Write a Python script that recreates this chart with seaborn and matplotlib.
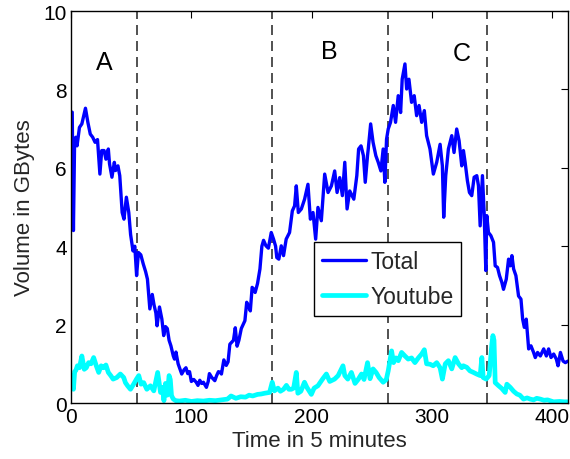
import matplotlib
matplotlib.use("Agg")
import matplotlib.pyplot as plt
import seaborn as sns
import pandas as pd

# ---- data ----
total_t = [1, 2, 3, 4, 5, 7, 9, 12, 14, 16, 18, 20, 22, 24, 25.5, 27.5, 29, 31, 32, 34,
           36, 37, 39, 40.5, 42.5, 44, 46, 48, 49.5, 51.5, 53, 54.5, 56, 58, 60, 62, 63.5,
           65.5, 67.5, 69, 70.5, 71.5, 73.5, 75.5, 77, 78.5, 80, 81.5, 83, 85, 86, 87.2, 89,
           90.5, 92, 94, 95.5, 97, 98.5, 100, 102, 104, 105.5, 107, 108.5, 110, 111.5, 112.5,
           114, 115, 117, 118, 119.5, 121, 122.5, 124, 125, 127, 129, 130.5, 132, 133.5, 135,
           136.5, 138, 139.5, 141.5, 143, 144.5, 146, 147, 149, 150.5, 152, 153, 155, 157,
           158.6, 160, 162, 164, 166.4, 168.3, 170, 171, 172.7, 174.7, 176.6, 178.8, 181.6,
           183.9, 185.8, 187.2, 188.9, 191.4, 194.1, 196.9, 198.9, 201.1, 203.3, 205.2, 208,
           210.8, 213.6, 216.4, 219.1, 221.1, 223.3, 225.5, 227.5, 229.4, 231.6, 235, 237.5,
           239, 241, 243, 244.5, 246.4, 247, 249, 251, 253.3, 255.3, 257.5, 259.4, 260.8,
           262.2, 263.6, 265.5, 267.8, 269.7, 271.9, 273.9, 275.2, 277.5, 278.9, 280.8, 283,
           285.2, 287.2, 289.2, 291.4, 293.6, 295.5, 298.3, 301.1, 303.9, 306.7, 308.6, 309.7,
           311.4, 313.6, 316.4, 318.3, 320.5, 322.5, 324.7, 326.1, 327.5, 329.4, 331.1, 333,
           335, 337.2, 338.6, 340, 341.9, 343.3, 344.7, 345.5, 346.9, 348.9, 351.1, 352.5,
           354.4, 356.1, 358, 359.4, 361.7, 363.6, 365, 366.4, 367.8, 369.7, 371.9, 373.9,
           375.3, 376.7, 378.3, 380.3, 382.2, 384.4, 385.8, 387.7, 390, 392.8, 395, 396.9,
           398.9, 401.1, 403.3, 404.7, 406.7, 408.9, 410.8, 413]
total_v = [7.42, 4.40, 6.73, 6.78, 6.56, 7.03, 7.12, 7.52, 7.16, 6.86, 6.78, 6.65, 6.72, 5.84,
           6.44, 6.44, 6.22, 6.48, 6.10, 5.76, 6.14, 5.93, 6.05, 5.80, 4.86, 4.69, 5.25, 4.86,
           4.30, 3.88, 4.00, 3.25, 3.84, 3.78, 3.55, 3.35, 3.16, 2.40, 2.77, 2.50, 2.30, 1.97,
           2.45, 2.14, 1.72, 1.95, 1.90, 1.60, 1.46, 1.20, 1.12, 1.30, 1.00, 0.87, 0.74, 0.85,
           0.90, 0.75, 0.80, 0.55, 0.60, 0.53, 0.45, 0.58, 0.50, 0.53, 0.45, 0.40, 0.55, 0.75,
           0.65, 0.62, 0.57, 0.70, 0.80, 0.78, 0.74, 1.10, 0.96, 1.05, 1.50, 1.55, 1.60, 1.92,
           1.45, 1.60, 1.90, 2.00, 2.10, 2.57, 2.50, 2.35, 2.95, 2.90, 2.82, 3.05, 3.42, 4.00,
           4.15, 4.01, 3.95, 4.35, 4.18, 4.00, 3.71, 3.67, 4.01, 3.76, 4.18, 4.35, 4.90, 5.03,
           5.54, 4.86, 4.95, 5.20, 5.58, 4.69, 4.86, 4.18, 4.99, 4.65, 5.84, 5.37, 5.54, 5.92,
           5.37, 5.75, 5.29, 6.14, 4.95, 5.41, 5.20, 5.80, 6.48, 6.56, 6.31, 5.63, 6.31, 6.48,
           7.12, 6.65, 6.31, 6.14, 5.92, 6.48, 5.63, 6.73, 6.99, 7.16, 7.59, 7.16, 7.84, 7.41,
           8.26, 8.65, 8.01, 8.26, 7.67, 7.84, 7.33, 7.59, 7.16, 7.46, 6.82, 6.48, 5.84, 6.14,
           6.60, 6.05, 4.74, 5.80, 6.48, 6.82, 6.39, 6.99, 6.69, 6.05, 6.44, 6.14, 5.67, 5.37,
           5.29, 5.76, 5.80, 5.54, 4.52, 5.80, 4.86, 3.38, 4.78, 4.35, 4.27, 4.10, 3.50, 3.46,
           3.25, 3.08, 2.90, 3.16, 3.67, 3.50, 3.76, 3.42, 3.25, 2.73, 2.65, 2.14, 1.93, 2.14,
           1.38, 1.46, 1.29, 1.16, 1.29, 1.20, 1.38, 1.20, 1.38, 1.16, 1.25, 1.12, 0.95, 1.29,
           1.07, 1.03, 1.07]

youtube_t = [1, 2, 3, 4, 5.3, 7, 9, 11, 12.7, 14.6, 16.6, 18.8, 21, 23, 25, 27, 29, 31, 33,
             35, 38, 41, 43.8, 45.2, 47, 49.4, 52, 54.4, 56.3, 58.2, 60.4, 63, 66, 68.8, 72,
             74.4, 76, 77.2, 78.5, 80, 81.5, 82.5, 83.5, 85, 87, 90, 95, 100, 105, 110, 115,
             120, 125, 130, 133, 137, 141, 145, 148, 151, 155, 158, 161, 165, 167.2, 169, 172,
             174, 176.6, 179, 181, 183, 185, 187.2, 188.5, 191, 194, 196, 199.7, 202, 205.2,
             209, 212.2, 215, 219, 222, 226, 227.5, 230, 233, 236, 238.6, 241.4, 243.5, 246.4,
             248.5, 251, 253.5, 256, 259.4, 262, 263.6, 266.4, 268, 270, 272, 274.7, 277.5,
             280.2, 283, 285.8, 288.6, 291.4, 293.6, 295.5, 298.3, 301, 303.9, 306.7, 308.6,
             311, 313.6, 316.4, 319.2, 322, 324.7, 326, 328.9, 331.5, 334.4, 337, 340, 341.4,
             342.5, 345, 347.5, 349.7, 350.6, 351.5, 352.5, 355.3, 358, 360.8, 362.2, 365,
             367.8, 370.5, 373, 376, 379, 381.6, 384.4, 387, 390, 393, 396, 401, 406, 410, 413]
youtube_v = [0.70, 0.35, 0.80, 0.83, 0.95, 0.90, 1.20, 0.86, 0.90, 1.03, 1.00, 1.16, 0.95, 0.78,
             0.95, 0.90, 0.97, 0.78, 0.70, 0.61, 0.65, 0.74, 0.65, 0.52, 0.44, 0.35, 0.48, 0.61,
             0.70, 0.48, 0.52, 0.35, 0.44, 0.31, 0.78, 0.27, 0.40, 0.06, 0.50, 0.20, 0.70, 0.60,
             0.19, 0.10, 0.06, 0.05, 0.07, 0.04, 0.06, 0.05, 0.07, 0.06, 0.08, 0.10, 0.18, 0.12,
             0.16, 0.15, 0.20, 0.18, 0.22, 0.23, 0.25, 0.27, 0.53, 0.31, 0.38, 0.30, 0.35, 0.45,
             0.35, 0.35, 0.38, 0.78, 0.25, 0.30, 0.53, 0.40, 0.22, 0.38, 0.44, 0.61, 0.74, 0.55,
             0.61, 0.70, 0.95, 0.70, 0.61, 0.78, 0.50, 0.60, 0.74, 0.60, 1.03, 0.62, 0.87, 0.78,
             0.65, 0.53, 0.60, 0.82, 1.33, 1.03, 1.15, 1.08, 1.29, 1.20, 1.12, 1.15, 1.03, 1.15,
             1.25, 1.36, 1.00, 0.99, 0.95, 1.03, 0.90, 0.61, 1.00, 1.08, 0.87, 1.16, 1.00, 0.90,
             0.95, 0.91, 0.82, 0.78, 0.74, 0.70, 1.16, 0.65, 0.61, 0.70, 1.50, 1.72, 1.60, 0.52,
             0.44, 0.37, 0.27, 0.48, 0.40, 0.30, 0.23, 0.20, 0.10, 0.13, 0.10, 0.08, 0.12, 0.10,
             0.07, 0.08, 0.03, 0.04, 0.03, 0.03]

boundaries = [55, 167, 263, 346]
region_labels = ["A", "B", "C"]
region_label_x = [28, 215, 325]
region_label_y = [8.7, 8.97, 8.93]
x_ticks = [0, 100, 200, 300, 400]
y_ticks = [0, 2, 4, 6, 8, 10]

# ---- styling ----
sns.set_theme(style="white")
plt.rcParams["font.family"] = ["Liberation Sans", "DejaVu Sans"]

fig = plt.figure(figsize=(5.7, 4.6), dpi=100)
ax = fig.add_axes([0.1246, 0.1217, 0.8719, 0.8522])

df_total = pd.DataFrame({"t": total_t, "v": total_v})
df_yt = pd.DataFrame({"t": youtube_t, "v": youtube_v})

sns.lineplot(data=df_total, x="t", y="v", ax=ax, color="#0000ff", linewidth=2.4,
             label="Total", estimator=None, sort=True)
sns.lineplot(data=df_yt, x="t", y="v", ax=ax, color="#00ffff", linewidth=3.4,
             label="Youtube", estimator=None, sort=True)

for b in boundaries:
    ax.axvline(b, color="#333333", linestyle=(0, (6, 3.6)), linewidth=1.2, zorder=1)

for lab, lx, ly in zip(region_labels, region_label_x, region_label_y):
    ax.text(lx, ly, lab, fontsize=18, ha="center", va="center", color="black")

ax.set_xlim(0, 413)
ax.set_ylim(0, 10)
ax.set_xticks(x_ticks)
ax.set_yticks(y_ticks)
ax.tick_params(direction="in", length=5, width=0.8, top=True, right=True,
               labelsize=15, colors="black", pad=3)
for s in ax.spines.values():
    s.set_visible(True)
    s.set_color("black")
    s.set_linewidth(1.0)

ax.set_xlabel("Time in 5 minutes", fontsize=16, labelpad=3)
ax.set_ylabel("Volume in GBytes", fontsize=16, labelpad=6)

leg = ax.legend(loc="upper left", bbox_to_anchor=(0.489, 0.41), borderaxespad=0,
                fontsize=16.5, frameon=True, fancybox=False, edgecolor="black",
                framealpha=1, handlelength=1.9, borderpad=0.35, labelspacing=0.5,
                handletextpad=0.2)
leg.get_frame().set_linewidth(1.0)

fig.savefig("out.png", dpi=100)
